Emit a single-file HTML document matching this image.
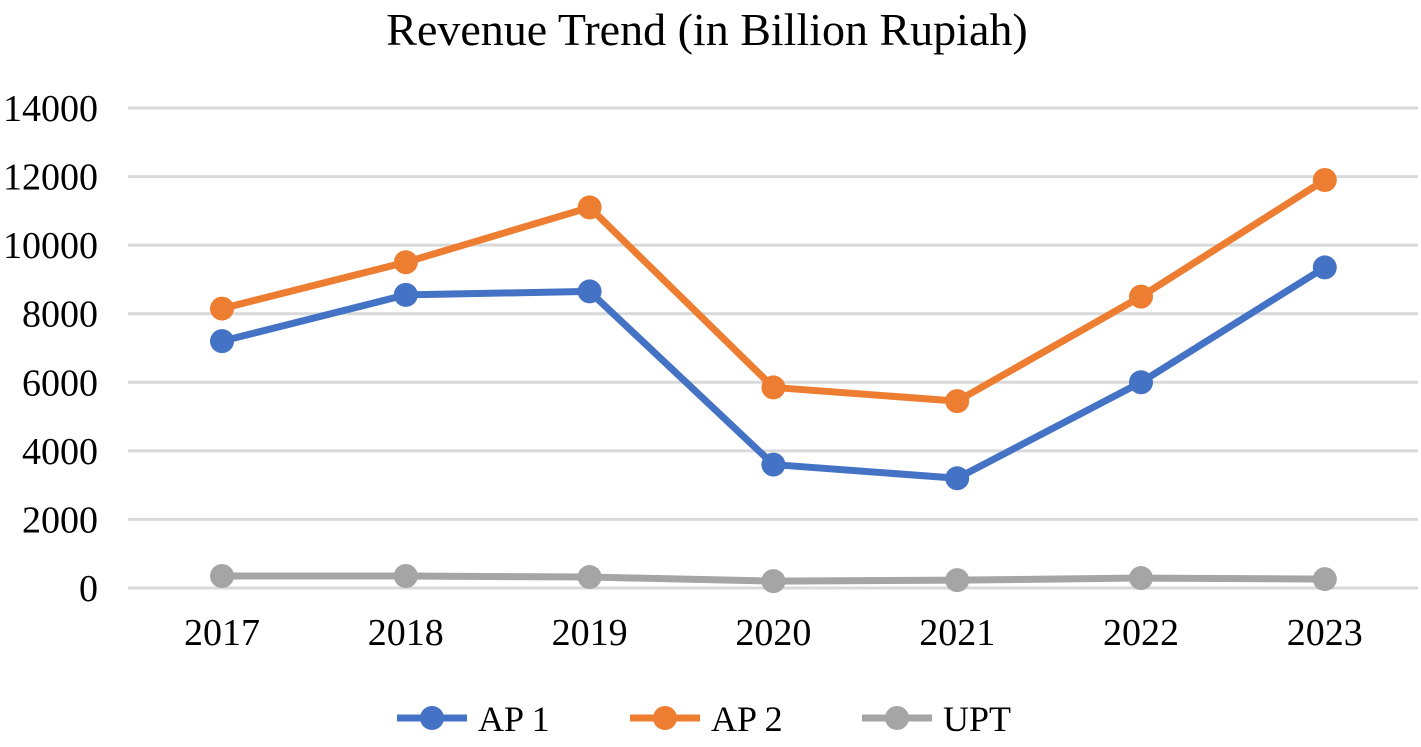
<!DOCTYPE html>
<html><head><meta charset="utf-8"><style>
body{margin:0;background:#fff;}
svg text{font-family:"Liberation Serif",serif;fill:#000;}
</style></head><body>
<svg id="chart" width="1421" height="742" viewBox="0 0 1421 742" xmlns="http://www.w3.org/2000/svg">
<text x="707" y="45" font-size="46" text-anchor="middle">Revenue Trend (in Billion Rupiah)</text>
<g id="grid"></g><g id="yticks"></g><g id="xticks"></g><g id="series"></g><g id="legend"></g>
</svg>
<script>
const categories=["2017","2018","2019","2020","2021","2022","2023"];
const ap1=[7200,8550,8650,3600,3200,6000,9350];
const ap2=[8150,9500,11100,5850,5450,8500,11900];
const upt=[350,350,320,200,230,290,260];
const yTicks=[0,2000,4000,6000,8000,10000,12000,14000];
const seriesNames=["AP 1","AP 2","UPT"];
const NS="http://www.w3.org/2000/svg";
const y=v=>588-v*(480/14000);
const x=i=>222+i*183.8;
function mk(t,a,p){const e=document.createElementNS(NS,t);for(const k in a)e.setAttribute(k,a[k]);p.appendChild(e);return e;}
const grid=document.getElementById('grid'),yt=document.getElementById('yticks'),xt=document.getElementById('xticks'),ser=document.getElementById('series'),leg=document.getElementById('legend');
yTicks.forEach(v=>{
 const l=mk('line',{x1:128,x2:1418,y1:y(v),y2:y(v),stroke:'#d9d9d9','stroke-width':3},grid);
 
 
 const t=mk('text',{x:98,y:y(v)+13,'font-size':38,'text-anchor':'end'},yt);t.textContent=v;
 
 
});
categories.forEach((c,i)=>{
 const t=mk('text',{x:x(i),y:645,'font-size':38,'text-anchor':'middle'},xt);t.textContent=c;
 
 
});
const colors=["#4472C4","#ED7D31","#A5A5A5"];
[upt,ap1,ap2].forEach((d,k)=>{
 const si=[2,0,1][k];
 const g=mk('g',{},ser);
 
 
 const p=mk('polyline',{points:d.map((v,i)=>x(i)+','+y(v)).join(' '),fill:'none',stroke:colors[si],'stroke-width':7,'stroke-linejoin':'round'},g);
 
 
 d.forEach((v,i)=>{const c=mk('circle',{cx:x(i),cy:y(v),r:12,fill:colors[si]},g);
 
 });
});
const lx=[397,630,862];
seriesNames.forEach((n,i)=>{
 const g=mk('g',{},leg);
 
 
 mk('line',{x1:lx[i],x2:lx[i]+70,y1:718,y2:718,stroke:colors[i],'stroke-width':7},g);
 mk('circle',{cx:lx[i]+35,cy:718,r:12,fill:colors[i]},g);
 const t=mk('text',{x:lx[i]+81,y:731,'font-size':36},g);t.textContent=n;
});
</script>
</body></html>
